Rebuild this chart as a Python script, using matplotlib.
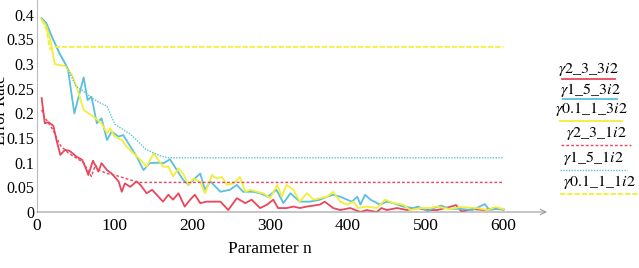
import matplotlib
matplotlib.use("Agg")
import matplotlib.pyplot as plt
from matplotlib.lines import Line2D

plt.rcParams['font.family'] = ['Liberation Serif', 'DejaVu Serif']
plt.rcParams['mathtext.fontset'] = 'stix'

# solid series (3i2)
red_x = [6, 10, 15, 21, 25, 30, 36, 42, 51, 58, 62, 66, 72, 79, 83, 90, 96, 105, 109, 113,
         120, 128, 133, 141, 148, 154, 162, 169, 175, 182, 190, 197, 203, 210, 218, 236, 246,
         257, 268, 276, 287, 296, 304, 310, 321, 330, 338, 347, 364, 370, 381, 390, 403, 416,
         424, 437, 443, 450, 463, 476, 489, 502, 515, 530, 539, 546, 560, 575, 590, 600]
red_y = [.231, .180, .182, .175, .146, .116, .126, .124, .112, .106, .092, .075, .104, .082,
         .099, .085, .078, .062, .041, .058, .051, .062, .055, .038, .045, .035, .021, .035,
         .025, .038, .011, .025, .035, .018, .021, .021, .004, .028, .018, .025, .008, .015,
         .025, .008, .008, .011, .008, .011, .015, .021, .008, .004, .008, .000, .004, .000,
         .008, .004, .008, .004, .008, .004, .004, .010, .014, .001, .006, .004, .008, .005]

blue_x = [6, 12, 21, 30, 36, 40, 48, 60, 65, 70, 77, 83, 90, 96, 105, 111, 120, 128, 137, 145,
          154, 163, 171, 180, 188, 195, 201, 210, 216, 223, 236, 248, 257, 265, 278, 287, 297,
          308, 317, 326, 338, 351, 364, 373, 381, 390, 399, 405, 412, 416, 422, 429, 441, 450,
          458, 471, 484, 490, 503, 510, 520, 529, 546, 560, 576, 582, 590, 600]
blue_y = [.393, .383, .349, .319, .302, .288, .200, .273, .227, .234, .180, .190, .146, .163,
          .153, .156, .133, .113, .085, .099, .100, .099, .107, .085, .065, .055, .065, .078,
          .045, .062, .041, .045, .055, .041, .041, .038, .031, .045, .018, .038, .021, .021,
          .025, .031, .035, .031, .025, .021, .031, .015, .035, .025, .015, .021, .018, .011,
          .008, .011, .002, .008, .013, .007, .006, .004, .016, .004, .006, .005]

yel_x = [6, 12, 17, 23, 32, 36, 45, 51, 60, 72, 83, 90, 94, 100, 109, 115, 124, 133, 141, 150,
         156, 162, 169, 175, 182, 188, 195, 201, 210, 216, 225, 231, 238, 244, 253, 261, 268,
         274, 283, 291, 300, 309, 315, 321, 330, 338, 347, 356, 364, 373, 381, 390, 399, 407,
         413, 424, 437, 448, 458, 471, 480, 493, 506, 514, 530, 545, 565, 580, 590, 600]
yel_y = [.392, .378, .350, .300, .297, .297, .278, .254, .207, .194, .180, .160, .170, .153,
         .146, .133, .119, .106, .092, .119, .106, .092, .092, .072, .088, .078, .055, .068,
         .061, .038, .075, .068, .071, .055, .058, .071, .041, .045, .041, .038, .028, .055,
         .031, .055, .045, .021, .038, .025, .028, .031, .041, .021, .015, .021, .008, .011,
         .008, .025, .018, .015, .004, .008, .008, .011, .006, .010, .008, .004, .010, .006]

# dashed series (1i2)
red_d_x = [6, 10, 20, 30, 40, 50, 60, 70, 75, 80, 90, 100, 110, 120, 130, 600]
red_d_y = [.207, .192, .168, .135, .120, .110, .100, .072, .095, .085, .078, .075, .070, .065, .060, .060]
blue_d_x = [6, 12, 20, 30, 40, 50, 60, 70, 80, 90, 100, 110, 120, 130, 140, 150, 160, 170, 600]
blue_d_y = [.393, .383, .352, .317, .290, .255, .245, .232, .222, .215, .178, .168, .158, .143,
            .127, .120, .113, .110, .110]
yel_d_x = [6, 12, 17, 22, 600]
yel_d_y = [.390, .370, .330, .335, .335]

y_ticks = [0, 0.05, 0.1, 0.15, 0.2, 0.25, 0.3, 0.35, 0.4]
y_ticklabels = ['0', '0.05', '0.1', '0.15', '0.2', '0.25', '0.3', '0.35', '0.4']
x_ticks = [0, 100, 200, 300, 400, 500, 600]

labels = [r"$\gamma2\_3\_3i2$", r"$\gamma1\_5\_3i2$", r"$\gamma0.1\_1\_3i2$",
          r"$\gamma2\_3\_1i2$", r"$\gamma1\_5\_1i2$", r"$\gamma0.1\_1\_1i2$"]

RED = '#e8475c'
BLUE = '#5bc0dc'
YEL = '#f2ee3a'

series = [
    (red_x, red_y, RED, '-', 1.3),
    (blue_x, blue_y, BLUE, '-', 1.3),
    (yel_x, yel_y, YEL, '-', 1.3),
    (red_d_x, red_d_y, RED, (0, (2, 1.5)), 1.0),
    (blue_d_x, blue_d_y, BLUE, (0, (1, 1)), 1.0),
    (yel_d_x, yel_d_y, YEL, (0, (3, 1)), 1.3),
]

fig = plt.figure(figsize=(6.39, 2.68), dpi=100)
ax = fig.add_axes([37 / 639, 56 / 268, 510 / 639, 212 / 268])

for x, y, c, ls, lw in series:
    ax.plot(x, y, color=c, linestyle=ls, linewidth=lw)

ax.set_xlim(0, 656)
ax.set_ylim(0, 0.43)
ax.set_xticks(x_ticks)
ax.set_yticks(y_ticks, y_ticklabels)
ax.tick_params(axis='y', length=0, labelsize=11.5, pad=2)
ax.tick_params(axis='x', length=0, labelsize=12.5, pad=4)

for s in ['top', 'right', 'bottom']:
    ax.spines[s].set_visible(False)
ax.spines['left'].set_color('#bbbbbb')
ax.annotate('', xy=(1, 0), xytext=(0, 0), xycoords='axes fraction',
            arrowprops=dict(arrowstyle='->', color='#999999', lw=0.8,
                            shrinkA=0, shrinkB=0))

ax.text(300, -0.075, 'Parameter n', ha='center', va='center', fontsize=12.5)
# y label is partly cut off at the left edge, as in the source figure
fig.text(0.001, 0.59, 'Error Rate', rotation=90, ha='center', va='center', fontsize=12)

# legend: text with line sample underneath
text_y = [70, 90, 109, 133, 158, 182]
line_y = [79, 99, 121, 145, 170, 194]
line_x0 = [562, 563, 560, 561, 560, 560]
line_x1 = [615, 617, 622, 631, 627, 639]
for i, (lab, (_, _, c, ls, lw)) in enumerate(zip(labels, series)):
    xc = (line_x0[i] + line_x1[i]) / 2
    fig.text(xc / 639, 1 - text_y[i] / 268, lab, ha='center', va='center', fontsize=11.5)
    fig.add_artist(Line2D([line_x0[i] / 639, line_x1[i] / 639],
                          [1 - line_y[i] / 268] * 2, color=c, linestyle=ls, linewidth=lw))

fig.savefig('out.png', dpi=100)
